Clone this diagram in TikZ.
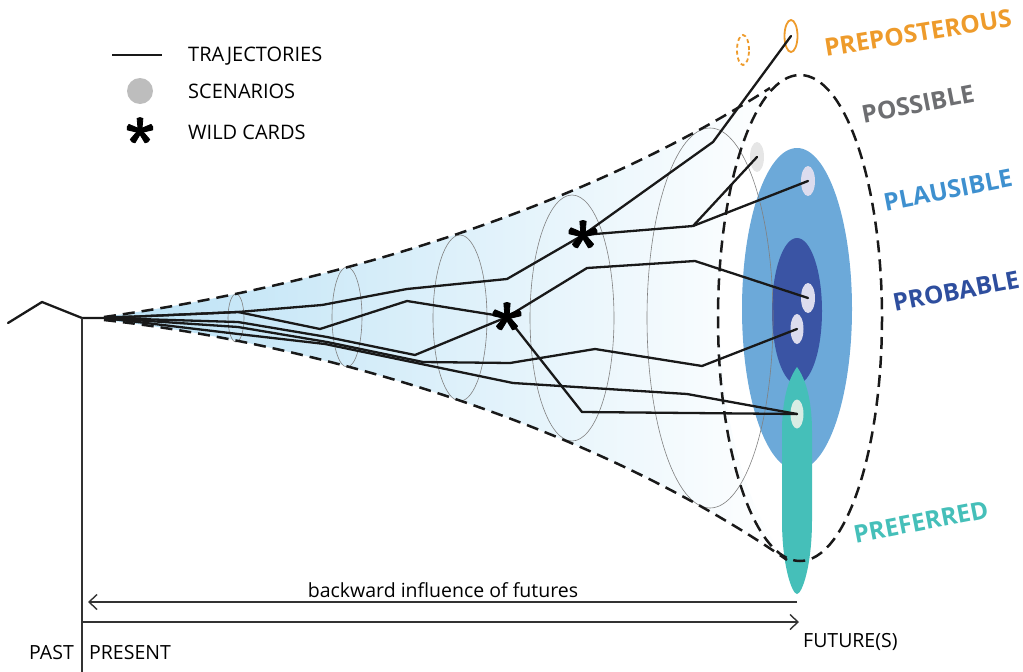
\documentclass[tikz,border=0pt]{standalone}
\usepackage{fontspec}
\setmainfont{Open Sans}
\usetikzlibrary{arrows.meta,shapes.geometric}

\definecolor{conebl}{RGB}{186,225,245}
\definecolor{plaus}{RGB}{108,169,217}
\definecolor{prob}{RGB}{58,84,164}
\definecolor{pref}{RGB}{69,191,185}
\definecolor{scen}{RGB}{220,220,238}
\definecolor{scenb}{RGB}{217,236,228}
\definecolor{scenfade}{RGB}{230,230,230}
\definecolor{legdot}{RGB}{189,189,189}
\definecolor{orng}{RGB}{238,155,43}
\definecolor{possgray}{RGB}{109,110,113}
\definecolor{plaustext}{RGB}{62,144,207}
\definecolor{probtext}{RGB}{46,78,158}

\tikzset{
  traj/.style={line width=2.3pt, line join=round, line cap=round, black!90},
  bound/.style={line width=2.5pt, black!90, dash pattern=on 12pt off 7pt},
  section/.style={draw=black!50, line width=0.6pt},
  scenario/.style={ellipse, inner sep=0pt, minimum width=14pt, minimum height=30pt, draw=none, fill=scen},
  conelabel/.style={font=\bfseries\fontsize{24.5}{24.5}\selectfont, rotate=11},
  legendtext/.style={font=\fontsize{20}{20}\selectfont, anchor=base west, inner sep=0pt},
  axistext/.style={font=\fontsize{19.5}{19.5}\selectfont, inner sep=0pt},
  axis/.style={line width=1.4pt, black!80},
  wildcard/.pic={
    \foreach \a in {-90,-18,54,126,198}{
      \filldraw[line width=0.8pt, line join=round]
        (\a+90:2) -- (\a+13:14) -- (\a:14.6) -- (\a-13:14) -- (\a-90:2) -- cycle;
    }
    \fill (0,0) circle (3.6);
  }
}

\begin{document}
\begin{tikzpicture}[x=1pt, y=-1pt]
\useasboundingbox (0,0) rectangle (1023,672);

% ---- cone of futures, fading from left to right
\shade[left color=conebl, right color=white]
  (104,317) .. controls (330,285) and (580,210) .. (770,88)
  .. controls (700,200) and (700,450) .. (787,560)
  .. controls (600,430) and (330,345) .. (104,320) -- cycle;

% ---- plausible / probable / preferred zones
\fill[plaus] (797,309) ellipse [x radius=55, y radius=161];
\fill[prob] (797,311) ellipse [x radius=25, y radius=73];
\fill[pref] (797,367) .. controls (805,378) and (812,398) .. (812,432)
  -- (812,520) .. controls (812,566) and (802,594) .. (797,594)
  .. controls (792,594) and (782,566) .. (782,520)
  -- (782,432) .. controls (782,398) and (789,378) .. cycle;

% ---- cross sections of the cone
\draw[section] (236,318) ellipse [x radius=8, y radius=24];
\draw[section] (347,317) ellipse [x radius=15, y radius=50];
\draw[section] (460,318) ellipse [x radius=27, y radius=83];
\draw[section] (572,318) ellipse [x radius=42, y radius=123];
\draw[section] (710,318) ellipse [x radius=63, y radius=190];

% ---- boundaries of the possible
\draw[bound] (104,317) .. controls (330,285) and (580,210) .. (770,88);
\draw[bound] (104,320) .. controls (330,345) and (600,430) .. (787,560);
\draw[bound] (800,318) ellipse [x radius=82, y radius=243];

% ---- scenarios
\node[scenario, fill=scenfade] (sf) at (757,157) {};
\node[scenario] (sA) at (808,181) {};
\node[scenario] (sB) at (808,298) {};
\node[scenario, minimum width=13pt] (sC) at (797,329) {};
\node[scenario, fill=scenb, minimum width=13pt, minimum height=29pt] (sD) at (797,414) {};
\node[ellipse, draw=orng, line width=1.8pt, inner sep=0pt, minimum width=13pt, minimum height=32pt] (pp) at (791,36) {};
\node[ellipse, draw=orng, line width=1.8pt, dash pattern=on 4pt off 3pt, inner sep=0pt, minimum width=12pt, minimum height=30pt] (pd) at (743,50) {};

% ---- past and present
\coordinate (present) at (82,318);
\coordinate (apex) at (104,318);
\coordinate (w1) at (583,235);
\coordinate (w2) at (507,317);
\draw[traj] (8,323) -- (42,302) -- (present) -- (apex);
\fill[black!90] (apex) ++(0,-1.8) -- (132,315.5) -- (132,321.5) -- (104,320) -- cycle;

% ---- trajectories
\draw[traj] (apex) -- (238,312) -- (322,305) -- (407,289) -- (507,279)
  -- (w1) -- (713,142) -- (pp.center);
\draw[traj] (w1) -- (693,226) coordinate (fork) -- (sf.center);
\draw[traj] (fork) -- (sA.center);
\draw[traj] (apex) -- (238,312) -- (320,329) -- (407,301) -- (w2)
  -- (582,412) -- (sD.center);
\draw[traj] (apex) -- (238,322) -- (327,337) -- (415,355) -- (w2)
  -- (587,268) -- (695,261) -- (sB.center);
\draw[traj] (apex) -- (238,327) -- (327,342) -- (423,362) -- (510,363)
  -- (595,349) -- (702,366) -- (sC.center);
\draw[traj] (apex) -- (238,334) -- (325,344) -- (513,383) -- (687,394)
  -- (sD.center);

% ---- wild cards
\pic at (w1) {wildcard};
\pic at (w2) {wildcard};

% ---- zone labels
\node[conelabel, text=orng, rotate=-1.8] (lpre) at (918,33) {PREPOSTEROUS};
\node[conelabel, text=possgray] (lpos) at (918,104) {POSSIBLE};
\node[conelabel, text=plaustext] (lpla) at (948,190) {PLAUSIBLE};
\node[conelabel, text=probtext] (lpro) at (956,291) {PROBABLE};
\node[conelabel, text=pref] (lpref) at (921,522) {PREFERRED};

% ---- legend
\coordinate (lg1a) at (112,55);
\coordinate (lg1b) at (162,55);
\draw[traj, line cap=butt] (lg1a) -- (lg1b);
\node[circle, fill=legdot, minimum size=26pt, inner sep=0pt] (lgdot) at (140,91) {};
\pic[scale=0.92] at (140,131) {wildcard};
\node[legendtext] (lt1) at (188,61) {TRAJECTORIES};
\node[legendtext] (lt2) at (188,98) {SCENARIOS};
\node[legendtext] (lt3) at (188,139) {WILD CARDS};

% ---- time axis
\coordinate (axbot) at (82,672);
\coordinate (backstart) at (797,602);
\coordinate (backend) at (88,602);
\coordinate (fwdstart) at (82,622);
\coordinate (fwdend) at (799,622);
\draw[axis, line width=1.2pt] (present) -- (axbot);
\draw[axis, -{Straight Barb[length=8pt, width=15pt]}] (backstart) -- (backend);
\draw[axis, -{Straight Barb[length=8pt, width=15pt]}] (fwdstart) -- (fwdend);
\node[axistext, anchor=base] (lback) at (443,597) {backward influence of futures};
\node[axistext, anchor=base east] (lpast) at (74,659) {PAST};
\node[axistext, anchor=base west] (lpres) at (89,659) {PRESENT};
\node[axistext, anchor=base west] (lfut) at (803,647) {FUTURE(S)};
\end{tikzpicture}
\end{document}
